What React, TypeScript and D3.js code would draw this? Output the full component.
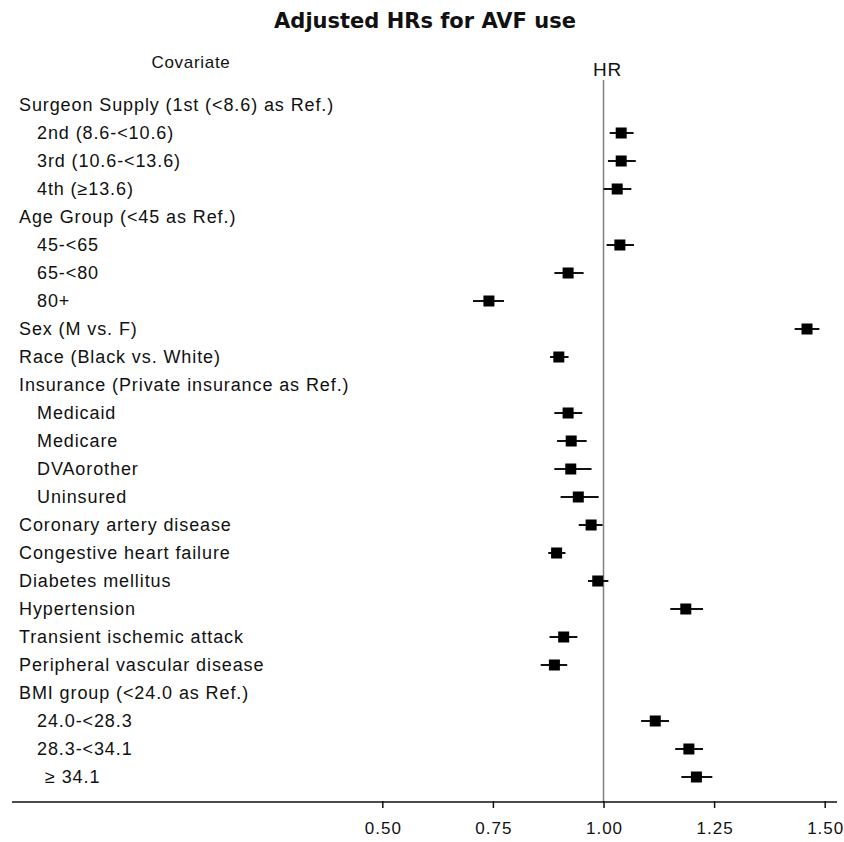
import React, { useEffect, useRef } from "react";
import * as d3 from "d3";

const labels = [
  "Surgeon Supply (1st (<8.6) as Ref.)",
  "2nd (8.6-<10.6)",
  "3rd (10.6-<13.6)",
  "4th (\u226513.6)",
  "Age Group (<45 as Ref.)",
  "45-<65",
  "65-<80",
  "80+",
  "Sex (M vs. F)",
  "Race (Black vs. White)",
  "Insurance (Private insurance as Ref.)",
  "Medicaid",
  "Medicare",
  "DVAorother",
  "Uninsured",
  "Coronary artery disease",
  "Congestive heart failure",
  "Diabetes mellitus",
  "Hypertension",
  "Transient ischemic attack",
  "Peripheral vascular disease",
  "BMI group (<24.0 as Ref.)",
  "24.0-<28.3",
  "28.3-<34.1",
  "\u2265 34.1",
];
const indent = [0, 1, 1, 1, 0, 1, 1, 1, 0, 0, 0, 1, 1, 1, 1, 0, 0, 0, 0, 0, 0, 0, 1, 1, 2];
const hr: (number | null)[] = [null, 1.04, 1.04, 1.031, null, 1.037, 0.92, 0.741, 1.46, 0.899, null, 0.92, 0.927, 0.926, 0.943, 0.972, 0.894, 0.987, 1.186, 0.91, 0.889, null, 1.117, 1.193, 1.21];
const lower: (number | null)[] = [null, 1.014, 1.01, 1.0, null, 1.007, 0.889, 0.705, 1.432, 0.879, null, 0.889, 0.895, 0.889, 0.903, 0.944, 0.875, 0.965, 1.151, 0.878, 0.858, null, 1.085, 1.162, 1.176];
const upper: (number | null)[] = [null, 1.068, 1.073, 1.063, null, 1.069, 0.955, 0.775, 1.488, 0.921, null, 0.952, 0.962, 0.973, 0.989, 0.998, 0.914, 1.011, 1.225, 0.941, 0.918, null, 1.148, 1.225, 1.246];
const ticks = [0.5, 0.75, 1.0, 1.25, 1.5];

export default function App() {
  const ref = useRef<SVGSVGElement>(null);
  useEffect(() => {
    document.body.style.margin = "0";
    const svg = d3.select(ref.current);
    svg.selectAll("*").remove();
    const x = d3.scaleLinear().domain([0.5, 1.5]).range([382.3, 824.7]);
    const y = d3.scaleBand().domain(labels.map((_, i) => String(i))).range([91, 791]);
    const yc = (i: number) => (y(String(i)) as number) + y.bandwidth() / 2;
    const font = "Liberation Sans, Arial, sans-serif";

    svg.append("text").attr("x", 425).attr("y", 28).attr("text-anchor", "middle")
      .attr("font-family", "DejaVu Sans, sans-serif").attr("font-weight", "bold").attr("font-size", 21)
      .attr("fill", "#111").text("Adjusted HRs for AVF use");
    svg.append("text").attr("x", 191).attr("y", 68).attr("text-anchor", "middle")
      .attr("font-family", font).attr("font-size", 17).attr("letter-spacing", 0.7).attr("fill", "#111")
      .text("Covariate");
    svg.append("text").attr("x", x(1) + 4).attr("y", 76).attr("text-anchor", "middle")
      .attr("font-family", font).attr("font-size", 19).attr("letter-spacing", 0.8).attr("fill", "#111")
      .text("HR");

    svg.append("line").attr("x1", x(1)).attr("x2", x(1)).attr("y1", 80).attr("y2", 802)
      .attr("stroke", "#808080").attr("stroke-width", 1.5);

    const g = svg.append("g");
    labels.forEach((l, i) => {
      g.append("text").attr("x", indent[i] === 0 ? 19 : indent[i] === 1 ? 37 : 45).attr("y", yc(i))
        .attr("dy", "0.36em").attr("font-family", font).attr("font-size", 18).attr("letter-spacing", 0.9)
        .attr("fill", "#111").text(l);
      const h = hr[i];
      if (h != null) {
        g.append("line").attr("x1", x(lower[i] as number)).attr("x2", x(upper[i] as number))
          .attr("y1", yc(i)).attr("y2", yc(i)).attr("stroke", "#111").attr("stroke-width", 2);
        g.append("rect").attr("x", x(h) - 5.5).attr("y", yc(i) - 5.5).attr("width", 11).attr("height", 11)
          .attr("fill", "#000");
      }
    });

    const axis = d3.axisBottom(x).tickValues(ticks).tickFormat(d3.format(".2f")).tickSize(7).tickSizeOuter(0);
    const ag = svg.append("g").attr("transform", "translate(0,802)").call(axis);
    ag.select(".domain").remove();
    ag.selectAll("text").attr("font-family", font).attr("font-size", 17).attr("letter-spacing", 1)
      .attr("fill", "#111").attr("y", 32).attr("dy", 0).attr("dx", 0.5);
    ag.selectAll("line").attr("stroke", "#111").attr("stroke-width", 1.5).attr("transform", "translate(0,-1)");
    svg.append("line").attr("x1", 12).attr("x2", 837).attr("y1", 802).attr("y2", 802)
      .attr("stroke", "#111").attr("stroke-width", 1.5);
  }, []);
  return <svg ref={ref} width={844} height={842} style={{ display: "block", background: "#fff" }} />;
}
